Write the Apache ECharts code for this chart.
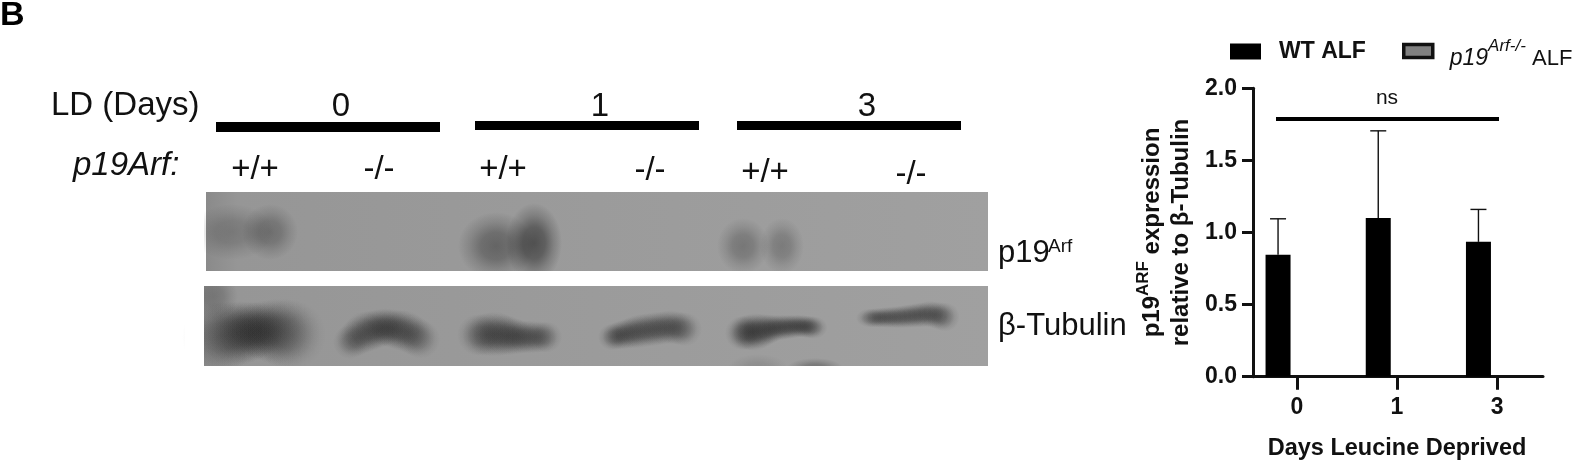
<!DOCTYPE html>
<html><head><meta charset="utf-8">
<style>html,body{margin:0;padding:0;background:#fff}#c{width:1579px;height:461px}</style>
<script src="https://cdn.jsdelivr.net/npm/echarts@6/dist/echarts.min.js"></script>
</head><body><div id="c"></div>
<script>
const categories = ['0','1','3'];
const wtValues = [0.845, 1.10, 0.935];
const wtErrorTops = [1.095, 1.705, 1.16];
const koValues = [0, 0, 0];
const yTicksInterval = 0.5;
const dayGroups = ['0','1','3'];
const genotypes = ['+/+','-/-','+/+','-/-','+/+','-/-'];
const FONT = '"Liberation Sans", Arial, sans-serif';

const chart = echarts.init(document.getElementById('c'), null, {renderer:'canvas'});

function txt(x,y,text,size,opt){opt=opt||{};
  return {type:'text',x,y,z:20,rotation:opt.rotation||0,style:{text,fill:opt.fill||'#111',
    font:(opt.style||'normal')+' '+(opt.weight||'normal')+' '+size+'px '+FONT,
    textAlign:opt.align||'center',textVerticalAlign:opt.valign||'middle'}};
}
function blob(x,y,rx,ry,a){
  return {type:'circle',x,y,scaleX:rx/100,scaleY:ry/100,z:3,silent:true,shape:{cx:0,cy:0,r:100},
    style:{fill:{type:'radial',x:.5,y:.5,r:.5,colorStops:[
      {offset:0,color:'rgba(20,20,20,'+a+')'},{offset:.4,color:'rgba(20,20,20,'+(a*.8)+')'},
      {offset:.7,color:'rgba(20,20,20,'+(a*.35)+')'},{offset:1,color:'rgba(20,20,20,0)'}]}}};
}
function band(pts){
  const out=[];const step=5;
  for(let i=0;i<pts.length-1;i++){
    const p=pts[i],q=pts[i+1];const n=Math.max(1,Math.round((q[0]-p[0])/step));
    for(let k=0;k<n;k++){const t=k/n;
      const y=p[1]+(q[1]-p[1])*t,r=(p[2]+(q[2]-p[2])*t)*1.9,a=p[3]+(q[3]-p[3])*t;
      out.push(blob(p[0]+(q[0]-p[0])*t,y,Math.max(r,14),r,a*step/(r*0.9)));
    }
  }
  return out;
}
function panel(x,y,w,h){
  return [{type:'rect',z:1,silent:true,shape:{x,y,width:w,height:h},style:{fill:{type:'linear',x:0,y:0,x2:1,y2:0,colorStops:[
    {offset:0,color:'#8a8a8a'},{offset:.04,color:'#969696'},{offset:.5,color:'#9b9b9b'},{offset:1,color:'#a0a0a0'}]}}}];
}
const bar=(x1,x2,y1,y2)=>({type:'rect',z:5,shape:{x:x1,y:y1,width:x2-x1,height:y2-y1},style:{fill:'#000'}});
const cover=(x,y,w,h)=>({type:'rect',z:4,silent:true,shape:{x,y,width:w,height:h},style:{fill:'#fff'}});

const gfx=[
  txt(0,16,'B',34,{weight:'bold',align:'left',fill:'#000'}),
  txt(51,106,'LD (Days)',33,{align:'left'}),
  bar(216,440,122,132),bar(475,699,121,130),bar(737,961,121,130),
  txt(341,107,dayGroups[0],33),txt(600,107,dayGroups[1],33),txt(867,107,dayGroups[2],33),
  txt(73,166,'p19Arf:',33,{style:'italic',align:'left'}),
  txt(255,170,genotypes[0],33),txt(379,170,genotypes[1],33),txt(503,170,genotypes[2],33),
  txt(650,171,genotypes[3],33),txt(765,173,genotypes[4],33),txt(911,175,genotypes[5],33),
  ...panel(206,192,782,79),...panel(204,286,784,80),
  blob(232,232,42,28,.22),blob(270,232,28,28,.3),
  blob(496,246,38,34,.4),blob(534,243,28,40,.55),
  blob(743,246,26,28,.28),blob(782,246,22,28,.25),
  blob(214,296,24,24,.2),
  ...band([[218,337,19,.85],[240,333,17,.9],[258,330,15,.9],[280,332,18,.9],[296,336,19,.85]]),
  ...band([[350,342,9,.6],[365,332,11,.7],[385,327,10,.75],[405,331,11,.7],[426,342,10,.6]]),
  ...band([[478,335,11,.8],[495,334,12,.8],[520,337,9,.65],[552,337,8,.55]]),
  ...band([[612,337,7,.6],[640,331,9,.6],[670,327,9,.6],[690,330,9,.6]]),
  ...band([[742,333,9,.8],[755,332,10,.85],[775,328,7,.65],[800,326,6,.55],[818,328,6,.5]]),
  ...band([[870,318,5,.4],[900,317,6,.45],[930,314,7,.55],[950,318,8,.6]]),
  blob(758,368,30,14,.12),blob(815,368,28,10,.3),
  cover(190,271,810,15),cover(190,366,810,22),cover(185,190,19,180),
  txt(998,253,'p19',31,{align:'left'}),
  txt(1048,247,'Arf',19,{align:'left'}),
  txt(998,326,'β-Tubulin',31,{align:'left'}),
  {type:'rect',z:10,shape:{x:1276,y:117,width:223,height:4},style:{fill:'#000'}},
  txt(1387,98,'ns',21,{fill:'#111'}),
];

chart.setOption({
  animation:false,
  backgroundColor:'#fff',
  textStyle:{fontFamily:FONT},
  grid:[
    {left:1246.7,top:88.3,width:300.6,height:288.4,outerBoundsMode:'none'},
    {left:1253,top:88.3,width:290,height:288.4,outerBoundsMode:'none'}
  ],
  legend:[
    {left:1230,top:40,data:['WT ALF'],icon:'rect',itemWidth:31,itemHeight:16,selectedMode:false,padding:0,
      textStyle:{fontSize:23,fontWeight:'bold',color:'#111',fontFamily:FONT,padding:[2,0,0,13]}},
    {left:1402,top:38,icon:'rect',itemWidth:29,itemHeight:13,selectedMode:false,padding:0,
      data:[{name:'KO ALF',itemStyle:{color:'#808080',borderColor:'#111',borderWidth:3.5}}],
      formatter:()=>'{i|p19}{u|Arf-/-}{r| ALF}',
      textStyle:{color:'#111',fontFamily:FONT,padding:[6,0,0,0],
        rich:{i:{fontStyle:'italic',fontSize:23,fontFamily:FONT,color:'#111',lineHeight:32,verticalAlign:'bottom',padding:[0,0,0,12]},
              u:{fontStyle:'italic',fontSize:17,fontFamily:FONT,color:'#111',lineHeight:32,verticalAlign:'top'},
              r:{fontSize:22,fontFamily:FONT,color:'#111',lineHeight:32,verticalAlign:'bottom'}}}}
  ],
  xAxis:[
    {gridIndex:0,type:'category',data:categories,
      axisLine:{show:false},
      axisTick:{show:true,alignWithLabel:true,length:13,lineStyle:{color:'#111',width:3}},
      axisLabel:{margin:19,fontSize:23,fontWeight:'bold',color:'#111',fontFamily:FONT},
      name:'Days Leucine Deprived',nameLocation:'middle',nameGap:60,
      nameTextStyle:{fontSize:23.5,fontWeight:'bold',color:'#111',fontFamily:FONT},
      splitLine:{show:false}},
    {gridIndex:1,type:'value',min:0,max:1,
      axisLine:{show:true,onZero:false,lineStyle:{color:'#111',width:3}},
      axisTick:{show:false},axisLabel:{show:false},splitLine:{show:false}}
  ],
  yAxis:[
    {gridIndex:0,type:'value',min:0,max:2,show:false},
    {gridIndex:1,type:'value',min:0,max:2,interval:yTicksInterval,
      axisLine:{show:true,lineStyle:{color:'#111',width:3}},
      axisTick:{show:true,length:11,lineStyle:{color:'#111',width:3}},
      axisLabel:{margin:16,fontSize:23,fontWeight:'bold',color:'#111',fontFamily:FONT,padding:[3,0,0,0],formatter:v=>v.toFixed(1)},
      splitLine:{show:false},
      name:'{b|p19}{s|ARF}{b| expression}\n{b|relative to β-Tubulin}',
      nameLocation:'middle',nameGap:60,nameRotate:90,
      nameTextStyle:{color:'#111',rich:{
        b:{fontSize:24,fontWeight:'bold',fontFamily:FONT,color:'#111',lineHeight:29,verticalAlign:'bottom'},
        s:{fontSize:17,fontWeight:'bold',fontFamily:FONT,color:'#111',lineHeight:29,verticalAlign:'top'}}}}
  ],
  series:[
    {name:'WT ALF',type:'bar',xAxisIndex:0,yAxisIndex:0,data:wtValues,barWidth:25,barGap:'50%',
      itemStyle:{color:'#000'}},
    {name:'KO ALF',type:'bar',xAxisIndex:0,yAxisIndex:0,data:koValues,barWidth:25,
      itemStyle:{color:'#808080'}},
    {name:'err',type:'custom',xAxisIndex:0,yAxisIndex:0,z:1,
      data:wtValues.map((v,i)=>[i,v,wtErrorTops[i]]),
      encode:{x:0,y:[1,2]},
      renderItem:(p,api)=>{
        const lay=api.barLayout({count:2,barWidth:25,barGap:'50%'});
        const base=api.coord([api.value(0),api.value(1)]);
        const top=api.coord([api.value(0),api.value(2)]);
        const x=base[0]+lay[0].offsetCenter;
        const st={stroke:'#111',lineWidth:1.4,fill:null};
        return {type:'group',children:[
          {type:'line',shape:{x1:x,y1:base[1],x2:x,y2:top[1]},style:st},
          {type:'line',shape:{x1:x-8,y1:top[1],x2:x+8,y2:top[1]},style:st}
        ]};
      }}
  ],
  graphic:{elements:gfx}
});
</script></body></html>
